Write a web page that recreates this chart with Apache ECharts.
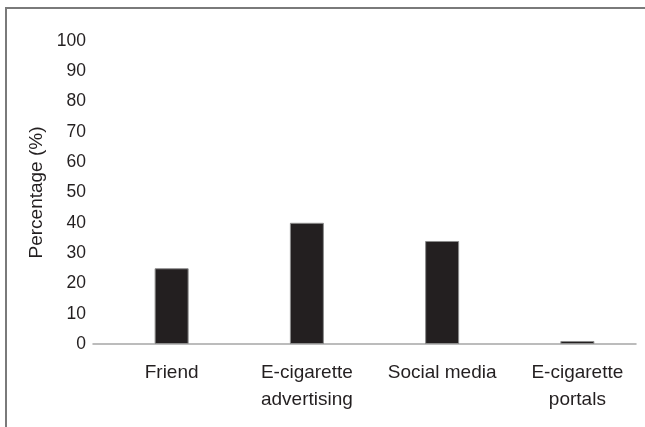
<!DOCTYPE html>
<html>
<head>
<meta charset="utf-8">
<script src="https://cdn.jsdelivr.net/npm/echarts@6/dist/echarts.min.js"></script>
<style>
  html, body { margin: 0; padding: 0; background: #fff; }
</style>
</head>
<body>
<div id="chart" style="width: 645px; height: 427px"></div>
<script>
const categories = ['Friend', 'E-cigarette\nadvertising', 'Social media', 'E-cigarette\nportals']
const percentages = [25, 40, 34, 1]
const yTicks = { min: 0, max: 100, interval: 10 }

const font = 'Liberation Sans, Arial, sans-serif'
const chart = echarts.init(document.getElementById('chart'))

const option = {
  animation: false,
  textStyle: { fontFamily: font },
  graphic: [
    {
      // frame: left and top edges only
      type: 'polyline',
      shape: { points: [[6, 440], [6, 8], [645, 8]] },
      style: { stroke: '#7a7a7a', lineWidth: 2, fill: null }
    }
  ],
  grid: [
    // axes grid (line from 93 to 636)
    { left: 93, right: 9, top: 41, bottom: 83 },
    // bars grid, shifted a little to the right like the original
    { left: 104, right: -1, top: 41, bottom: 83 }
  ],
  xAxis: [
    {
      type: 'category',
      gridIndex: 0,
      data: categories,
      axisLine: { lineStyle: { color: '#a6a6a6', width: 1.5 } },
      axisTick: { show: false },
      axisLabel: { show: false }
    },
    {
      type: 'category',
      gridIndex: 1,
      data: categories,
      axisLine: { show: false },
      axisTick: { show: false },
      axisLabel: {
        color: '#231f20',
        fontSize: 19,
        fontFamily: font,
        lineHeight: 27,
        margin: 15,
        interval: 0
      }
    }
  ],
  yAxis: [
    {
      type: 'value',
      gridIndex: 0,
      min: yTicks.min,
      max: yTicks.max,
      interval: yTicks.interval,
      name: 'Percentage (%)',
      nameLocation: 'middle',
      nameGap: 47,
      nameTextStyle: { color: '#231f20', fontSize: 19, fontFamily: font },
      axisLine: { show: false },
      axisTick: { show: false },
      splitLine: { show: false },
      axisLabel: { color: '#231f20', fontSize: 17.5, fontFamily: font, margin: 7 }
    },
    {
      type: 'value',
      gridIndex: 1,
      min: yTicks.min,
      max: yTicks.max,
      interval: yTicks.interval,
      show: false
    }
  ],
  series: [
    {
      type: 'bar',
      xAxisIndex: 1,
      yAxisIndex: 1,
      data: percentages,
      barWidth: 34,
      itemStyle: { color: '#231f20', borderColor: '#8c8c8c', borderWidth: 1 }
    }
  ]
}

chart.setOption(option)
</script>
</body>
</html>
